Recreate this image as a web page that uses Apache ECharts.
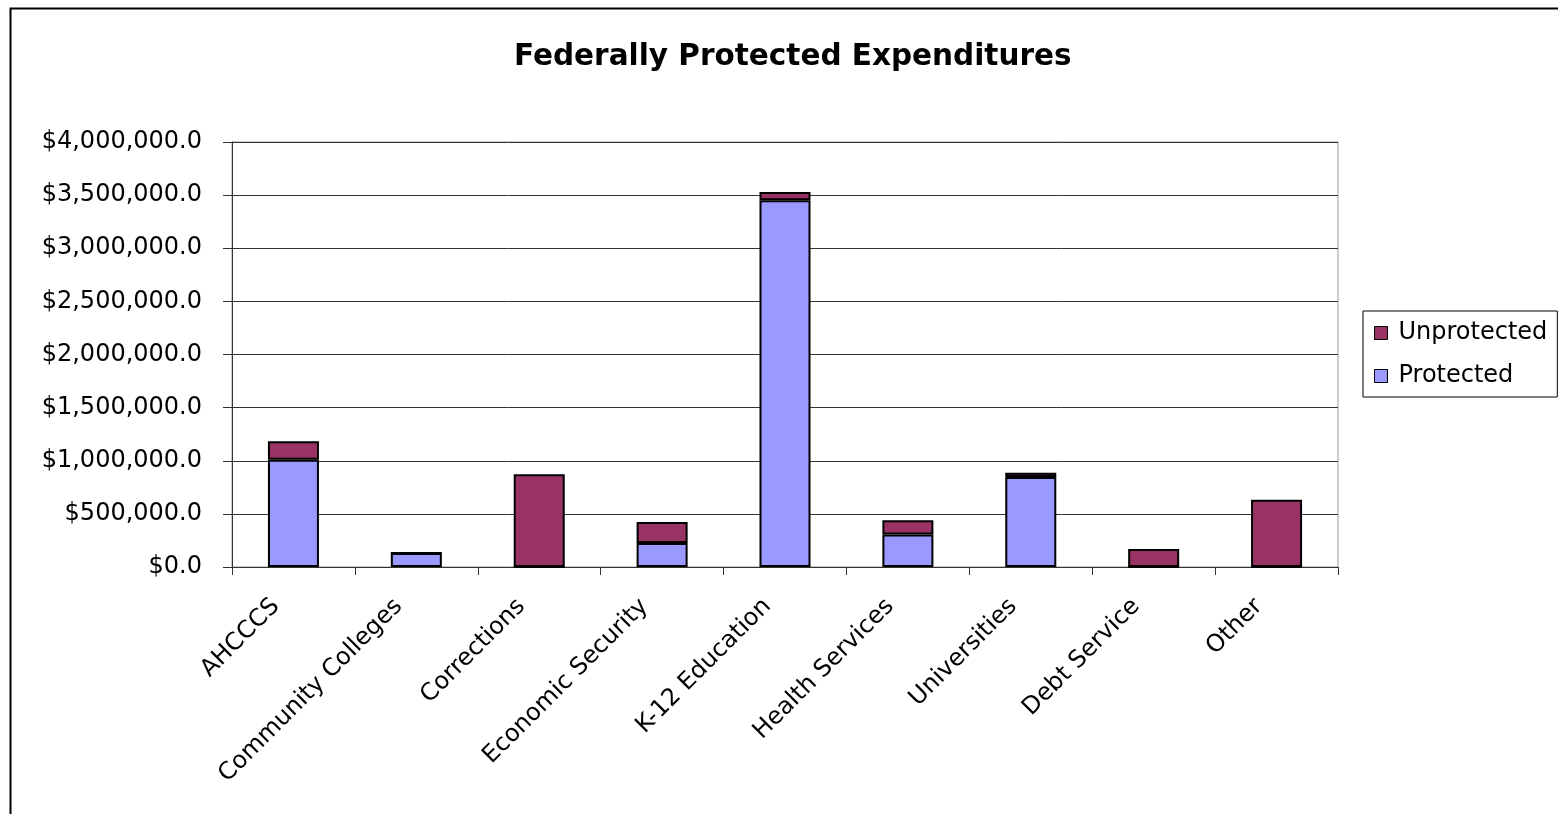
<!DOCTYPE html>
<html>
<head>
<meta charset="utf-8">
<script src="https://cdn.jsdelivr.net/npm/echarts@6/dist/echarts.min.js"></script>
<style>
html,body{margin:0;padding:0;background:#fff;}
#chart{width:1558px;height:814px;}
</style>
</head>
<body>
<div id="chart"></div>
<script>
const titleText = 'Federally Protected Expenditures';
const categories = ['AHCCCS','Community Colleges','Corrections','Economic Security','K-12 Education','Health Services','Universities','Debt Service','Other'];
const protectedValues = [1010000, 131000, 0, 226000, 3451000, 305000, 847000, 0, 0];
const unprotectedValues = [173000, 0, 872000, 197000, 78000, 135000, 41000, 169000, 634000];
const yMin = 0, yMax = 4000000, yStep = 500000;

const FONT = 'DejaVu Sans';
function money(v){
  return '$' + Math.round(v).toString().replace(/\B(?=(\d{3})+(?!\d))/g, ',') + '.0';
}

const chart = echarts.init(document.getElementById('chart'), null, {renderer:'canvas'});
chart.setOption({
  backgroundColor:'#fff',
  animation:false,
  title:{
    text:titleText, left:509, top:37,
    textStyle:{fontFamily:FONT, fontWeight:'bold', fontSize:29.5, color:'#000'}
  },
  graphic:[{
    type:'rect', left:8, top:6, silent:true,
    shape:{x:0,y:0,width:1600,height:900},
    style:{fill:'none', stroke:'#000', lineWidth:2}
  }],
  legend:{
    orient:'vertical', left:1363, top:311,
    data:['Unprotected','Protected'],
    icon:'rect', itemWidth:13, itemHeight:13, itemGap:17,
    padding:[9,10,8,11],
    borderColor:'#000', borderWidth:1,
    itemStyle:{borderColor:'#000', borderWidth:1},
    textStyle:{fontFamily:FONT, fontSize:24, color:'#000', lineHeight:26, padding:[0,0,0,6]}
  },
  grid:{left:232, top:142, right:220, bottom:247, show:true, borderColor:'#999', borderWidth:1},
  xAxis:{
    type:'category', data:categories,
    axisLine:{lineStyle:{color:'#333', width:1}},
    axisTick:{show:true, length:8, lineStyle:{color:'#333'}},
    axisLabel:{rotate:45, margin:18, interval:0, fontFamily:FONT, fontSize:24, color:'#000', padding:[0,25,0,0]}
  },
  yAxis:{
    type:'value', min:yMin, max:yMax, interval:yStep,
    axisLine:{show:true, lineStyle:{color:'#333', width:1}},
    axisTick:{show:true, length:9, lineStyle:{color:'#333'}},
    splitLine:{lineStyle:{color:'#333', width:1}},
    axisLabel:{formatter:money, margin:30, fontFamily:FONT, fontSize:24, color:'#000'}
  },
  series:[
    {name:'Protected', type:'bar', stack:'total', data:protectedValues, barWidth:51,
     itemStyle:{color:'#9999FF', borderColor:'#000', borderWidth:2}},
    {name:'Unprotected', type:'bar', stack:'total', data:unprotectedValues, barWidth:51,
     itemStyle:{color:'#993366', borderColor:'#000', borderWidth:2}}
  ]
});
</script>
</body>
</html>
